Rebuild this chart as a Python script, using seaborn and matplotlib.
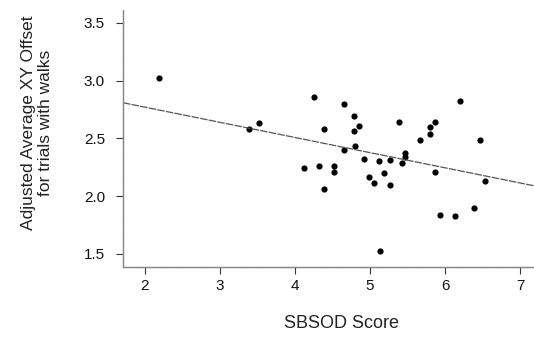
import numpy as np
import pandas as pd
import seaborn as sns
import matplotlib.pyplot as plt

sns.set_theme(style="white")
plt.rcParams['font.family'] = ['Liberation Sans', 'DejaVu Sans']

# values
sbsod = [2.19, 3.39, 3.52, 4.12, 4.25, 4.32, 4.39, 4.39, 4.52, 4.52,
         4.65, 4.65, 4.79, 4.79, 4.80, 4.85, 4.92, 4.99, 5.05, 5.12,
         5.13, 5.19, 5.26, 5.26, 5.39, 5.42, 5.46, 5.46, 5.66, 5.80,
         5.80, 5.86, 5.87, 5.93, 6.13, 6.20, 6.39, 6.46, 6.53]
offset = [3.02, 2.58, 2.63, 2.24, 2.86, 2.26, 2.58, 2.06, 2.26, 2.21,
          2.80, 2.40, 2.69, 2.56, 2.43, 2.61, 2.32, 2.17, 2.11, 2.30,
          1.53, 2.20, 2.31, 2.10, 2.64, 2.29, 2.37, 2.34, 2.49, 2.60,
          2.54, 2.64, 2.21, 1.84, 1.83, 2.82, 1.90, 2.49, 2.13]
x_ticks = [2, 3, 4, 5, 6, 7]
y_ticks = [1.5, 2.0, 2.5, 3.0, 3.5]

df = pd.DataFrame({'SBSOD Score': sbsod, 'Offset': offset})

fig = plt.figure(figsize=(5.34, 3.40), dpi=100)
ax = fig.add_axes([0.2303, 0.2156, 0.82, 0.755])
ax.set_xlim(1.711, 7.54)
ax.set_ylim(1.39, 3.61)

sns.regplot(data=df, x='SBSOD Score', y='Offset', ax=ax, ci=None, truncate=False,
            scatter_kws={'s': 20, 'color': 'black', 'alpha': 1, 'linewidths': 0},
            line_kws={'color': '#555555', 'lw': 0.9, 'linestyle': (0, (6, 1))})
ax.set_xlim(1.711, 7.54)

ax.set_xticks(x_ticks)
ax.set_xticklabels([str(t) for t in x_ticks])
ax.set_yticks(y_ticks)
ax.set_yticklabels([f'{t:.1f}' for t in y_ticks])
ax.tick_params(axis='both', direction='out', length=5, width=0.8, colors='#333333',
               labelsize=11, labelcolor='#111111')
ax.tick_params(axis='y', pad=8, left=True)
ax.tick_params(axis='x', pad=4, bottom=True)

for side in ['top', 'right']:
    ax.spines[side].set_visible(False)
for side in ['left', 'bottom']:
    ax.spines[side].set_color('#888888')
    ax.spines[side].set_linewidth(1.0)
    ax.spines[side].set_linestyle((0, (1, 0.6)))

ax.set_xlabel('SBSOD Score', fontsize=13, color='#222222', labelpad=16)
ax.set_ylabel('Adjusted Average XY Offset\nfor trials with walks', fontsize=12.5,
              color='#222222', linespacing=1.2)
ax.yaxis.set_label_coords(-0.16, 0.56)

fig.savefig('out.png', dpi=100)
